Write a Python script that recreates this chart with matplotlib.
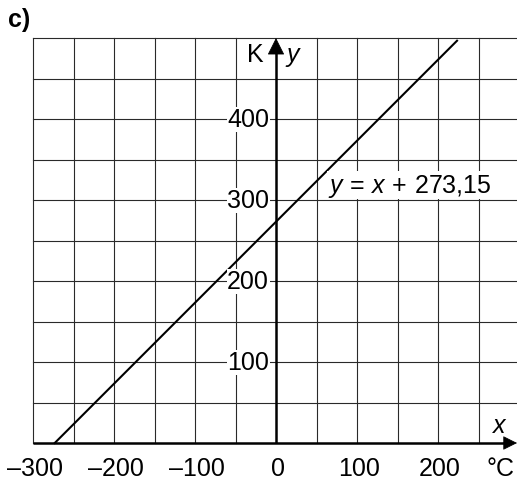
import matplotlib
matplotlib.use("Agg")
import matplotlib.pyplot as plt

plt.rcParams['font.family'] = ['Liberation Sans', 'DejaVu Sans']
plt.rcParams['mathtext.fontset'] = 'custom'
plt.rcParams['mathtext.rm'] = 'Liberation Sans'
plt.rcParams['mathtext.it'] = 'Liberation Sans:italic'

# data
x_ticks = [-300, -200, -100, 0, 100, 200]
x_tick_labels = ['\u2013300', '\u2013200', '\u2013100', '0', '100', '200']
y_ticks = [100, 200, 300, 400]
y_tick_labels = ['100', '200', '300', '400']
grid_x = [-300, -250, -200, -150, -100, -50, 50, 100, 150, 200, 250]
grid_y = [50, 100, 150, 200, 250, 300, 350, 400, 450, 500]
line_x = [-273.15, 223.5]
line_y = [0.0, 496.65]
equation = r'$y\,=\,x\,+\,273{,}15$'

W, H = 517, 481
fig = plt.figure(figsize=(W / 100, H / 100), dpi=100)
left_px, bottom_px, top_px = 33, 444, 39
ax = fig.add_axes([left_px / W, (H - bottom_px) / H, 1 - left_px / W, (bottom_px - top_px) / H])
xmin, ymin, ymax = -300, 0, 500
scale = (bottom_px - top_px) / (ymax - ymin)
xmax = xmin + (W - left_px) / scale
ax.set_xlim(xmin, xmax)
ax.set_ylim(ymin, ymax)
ax.axis('off')

gc = '#2a2a2a'
for gx in grid_x:
    ax.plot([gx, gx], [0, 500], color=gc, lw=0.8, zorder=1, clip_on=False)
for gy in grid_y:
    ax.plot([xmin, xmax], [gy, gy], color=gc, lw=0.8, zorder=1, clip_on=False)

# axes with arrows
ax.plot([xmin, xmax - 12 / scale], [0, 0], color='black', lw=1.8, zorder=3, clip_on=False, solid_capstyle='butt')
ax.annotate('', xy=(xmax, 0), xytext=(xmax - 14 / scale, 0),
            arrowprops=dict(arrowstyle='-|>,head_length=0.9,head_width=0.45', color='black', lw=0.5,
                            shrinkA=0, shrinkB=0), annotation_clip=False, zorder=3)
ax.plot([0, 0], [0, 500 - 14 / scale], color='black', lw=1.8, zorder=3, clip_on=False, solid_capstyle='butt')
ax.annotate('', xy=(0, 500), xytext=(0, 500 - 16 / scale),
            arrowprops=dict(arrowstyle='-|>,head_length=1.1,head_width=0.55', color='black', lw=0.5,
                            shrinkA=0, shrinkB=0), annotation_clip=False, zorder=3)

# function line
ax.plot(line_x, line_y, color='black', lw=1.5, zorder=4, clip_on=False)

fs = 18
bb = dict(facecolor='white', edgecolor='none', pad=0.3)
base_y = -(476 - bottom_px) / scale
for v, lab in zip(x_ticks, x_tick_labels):
    ax.text(v + 2 / scale, base_y, lab, ha='center', va='baseline', fontsize=fs, zorder=5)
for v, lab in zip(y_ticks, y_tick_labels):
    ax.text(-7 / scale, v, lab, ha='right', va='center', fontsize=fs, zorder=5, bbox=bb)

ax.text(xmax - 17 / scale, base_y, '°C', ha='center', va='baseline', fontsize=fs, zorder=5)
ax.text(xmax - 18 / scale, 18 / scale, '$x$', ha='center', va='center', fontsize=fs, zorder=5)
ax.text(-21 / scale, 480, 'K', ha='center', va='center', fontsize=fs, zorder=5)
ax.text(18 / scale, 478, '$y$', ha='center', va='center', fontsize=fs, zorder=5)
ax.text(64, 318, equation, ha='left', va='center', fontsize=fs, zorder=5, bbox=bb)

fig.text(8 / W, 1 - 20 / H, 'c)', ha='left', va='center', fontsize=fs, fontweight='bold')

fig.savefig('out.png', dpi=100)
